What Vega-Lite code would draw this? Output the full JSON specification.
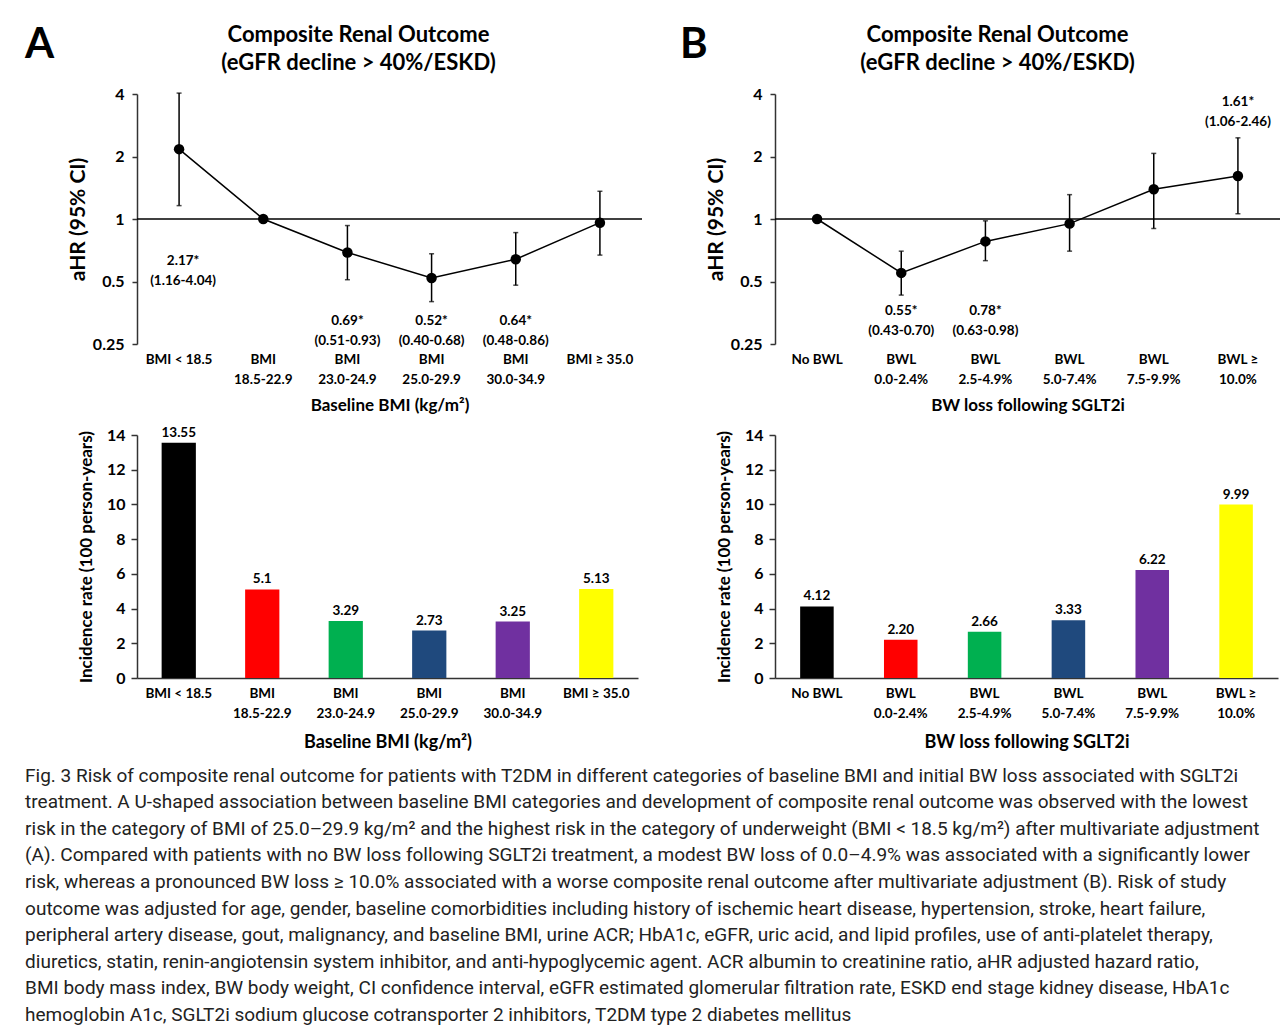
{
  "$schema": "https://vega.github.io/schema/vega-lite/v6.json",
  "padding": {"left": 25, "top": 24, "right": 0, "bottom": 5},
  "background": "white",
  "title": {
    "text": [
      "Fig. 3  Risk of composite renal outcome for patients with T2DM in different categories of baseline BMI and initial BW loss associated with SGLT2i",
      "treatment. A U-shaped association between baseline BMI categories and development of composite renal outcome was observed with the lowest",
      "risk in the category of BMI of 25.0–29.9 kg/m² and the highest risk in the category of underweight (BMI < 18.5 kg/m²) after multivariate adjustment",
      "(A). Compared with patients with no BW loss following SGLT2i treatment, a modest BW loss of 0.0–4.9% was associated with a significantly lower",
      "risk, whereas a pronounced BW loss ≥ 10.0% associated with a worse composite renal outcome after multivariate adjustment (B). Risk of study",
      "outcome was adjusted for age, gender, baseline comorbidities including history of ischemic heart disease, hypertension, stroke, heart failure,",
      "peripheral artery disease, gout, malignancy, and baseline BMI, urine ACR; HbA1c, eGFR, uric acid, and lipid profiles, use of anti-platelet therapy,",
      "diuretics, statin, renin-angiotensin system inhibitor, and anti-hypoglycemic agent. ACR albumin to creatinine ratio, aHR adjusted hazard ratio,",
      "BMI body mass index, BW body weight, CI confidence interval, eGFR estimated glomerular filtration rate, ESKD end stage kidney disease, HbA1c",
      "hemoglobin A1c, SGLT2i sodium glucose cotransporter 2 inhibitors, T2DM type 2 diabetes mellitus"
    ],
    "orient": "bottom",
    "anchor": "start",
    "frame": "bounds",
    "font": "Roboto",
    "fontSize": 19,
    "fontWeight": "normal",
    "lineHeight": 26.6,
    "color": "#222",
    "offset": 15
  },
  "datasets": {
    "hrA": [
      {"cat": "BMI < 18.5", "hr": 2.17, "lo": 1.16, "hi": 4.04, "label": "2.17*\n(1.16-4.04)"},
      {"cat": "BMI\n18.5-22.9", "hr": 1, "lo": null, "hi": null, "label": ""},
      {"cat": "BMI\n23.0-24.9", "hr": 0.69, "lo": 0.51, "hi": 0.93, "label": "0.69*\n(0.51-0.93)"},
      {"cat": "BMI\n25.0-29.9", "hr": 0.52, "lo": 0.40, "hi": 0.68, "label": "0.52*\n(0.40-0.68)"},
      {"cat": "BMI\n30.0-34.9", "hr": 0.64, "lo": 0.48, "hi": 0.86, "label": "0.64*\n(0.48-0.86)"},
      {"cat": "BMI ≥ 35.0", "hr": 0.96, "lo": 0.67, "hi": 1.36, "label": ""}
    ],
    "hrB": [
      {"cat": "No BWL", "hr": 1, "lo": null, "hi": null, "label": ""},
      {"cat": "BWL\n0.0-2.4%", "hr": 0.55, "lo": 0.43, "hi": 0.70, "label": "0.55*\n(0.43-0.70)"},
      {"cat": "BWL\n2.5-4.9%", "hr": 0.78, "lo": 0.63, "hi": 0.98, "label": "0.78*\n(0.63-0.98)"},
      {"cat": "BWL\n5.0-7.4%", "hr": 0.95, "lo": 0.70, "hi": 1.31, "label": ""},
      {"cat": "BWL\n7.5-9.9%", "hr": 1.39, "lo": 0.90, "hi": 2.07, "label": ""},
      {"cat": "BWL ≥\n10.0%", "hr": 1.61, "lo": 1.06, "hi": 2.46, "label": "1.61*\n(1.06-2.46)"}
    ],
    "irA": [
      {"cat": "BMI < 18.5", "ir": 13.55, "txt": "13.55"},
      {"cat": "BMI\n18.5-22.9", "ir": 5.1, "txt": "5.1"},
      {"cat": "BMI\n23.0-24.9", "ir": 3.29, "txt": "3.29"},
      {"cat": "BMI\n25.0-29.9", "ir": 2.73, "txt": "2.73"},
      {"cat": "BMI\n30.0-34.9", "ir": 3.25, "txt": "3.25"},
      {"cat": "BMI ≥ 35.0", "ir": 5.13, "txt": "5.13"}
    ],
    "irB": [
      {"cat": "No BWL", "ir": 4.12, "txt": "4.12"},
      {"cat": "BWL\n0.0-2.4%", "ir": 2.20, "txt": "2.20"},
      {"cat": "BWL\n2.5-4.9%", "ir": 2.66, "txt": "2.66"},
      {"cat": "BWL\n5.0-7.4%", "ir": 3.33, "txt": "3.33"},
      {"cat": "BWL\n7.5-9.9%", "ir": 6.22, "txt": "6.22"},
      {"cat": "BWL ≥\n10.0%", "ir": 9.99, "txt": "9.99"}
    ]
  },
  "columns": 2,
  "bounds": "flush",
  "spacing": {"row": 91, "column": 133},
  "concat": [
    {
      "width": 505,
      "height": 250,
      "title": {"text": ["Composite Renal Outcome", "(eGFR decline > 40%/ESKD)"], "fontSize": 22, "fontWeight": "bold", "lineHeight": 28, "anchor": "middle", "frame": "group", "dx": -31, "offset": -51, "font": "Lato", "color": "#000"},
      "data": {"name": "hrA"},
      "layer": [
        {"data": {"values": [{}]}, "mark": {"type": "rule", "color": "#000", "strokeWidth": 1.5}, "encoding": {"y": {"datum": 1, "type": "quantitative", "scale": {"type": "log", "domain": [0.25, 4], "nice": false},
          "axis": {"title": "aHR (95% CI)", "values": [0.25, 0.5, 1, 2, 4], "format": "~g", "labelFontSize": 16, "titleFontSize": 21, "tickSize": 5, "labelPadding": 8, "titlePadding": 4}}}},
        {
          "encoding": {
            "x": {"field": "cat", "type": "nominal", "sort": null,
                  "scale": {"domain": ["BMI < 18.5", "BMI\n18.5-22.9", "BMI\n23.0-24.9", "BMI\n25.0-29.9", "BMI\n30.0-34.9", "BMI ≥ 35.0"]},
                  "axis": {"title": "Baseline BMI (kg/m²)", "labelAngle": 0, "domain": false, "ticks": false, "labelPadding": 8, "labelFontSize": 13.5, "labelLineHeight": 20, "labelExpr": "split(datum.label, '\\n')", "titleFontSize": 17, "titlePadding": 12}}
          },
          "layer": [
            {"mark": {"type": "rule", "color": "#000", "strokeWidth": 1.5}, "encoding": {"y": {"field": "lo", "type": "quantitative"}, "y2": {"field": "hi"}}},
            {"mark": {"type": "tick", "color": "#000", "size": 5, "thickness": 1.5}, "encoding": {"y": {"field": "lo", "type": "quantitative"}}},
            {"mark": {"type": "tick", "color": "#000", "size": 5, "thickness": 1.5}, "encoding": {"y": {"field": "hi", "type": "quantitative"}}},
            {"mark": {"type": "line", "color": "#000", "strokeWidth": 1.5}, "encoding": {"y": {"field": "hr", "type": "quantitative"}}},
            {"mark": {"type": "point", "filled": true, "color": "#000", "opacity": 1, "size": 110}, "encoding": {"y": {"field": "hr", "type": "quantitative"}}},
            {"transform": [{"filter": "datum.label != '' && datum.hr < 1"}],
             "mark": {"type": "text", "fontSize": 13.5, "fontWeight": "bold", "font": "Lato", "lineBreak": "\n", "lineHeight": 19.5, "baseline": "middle", "dy": -23},
             "encoding": {"y": {"datum": 0.25}, "text": {"field": "label"}}},
            {"transform": [{"filter": "datum.label != '' && datum.hr > 1"}],
             "mark": {"type": "text", "fontSize": 13.5, "fontWeight": "bold", "font": "Lato", "lineBreak": "\n", "lineHeight": 19.5, "baseline": "middle", "dy": -83, "dx": 4},
             "encoding": {"y": {"datum": 0.25}, "text": {"field": "label"}}}
          ]
        },
        {"data": {"values": [{}]},
         "mark": {"type": "text", "text": "A", "fontSize": 42, "fontWeight": "bold", "font": "Lato", "align": "left", "baseline": "alphabetic", "dx": -154, "dy": -36},
         "encoding": {"x": {"datum": "BMI < 18.5"}, "y": {"datum": 4}}}
      ]
    },
    {
      "width": 505,
      "height": 250,
      "title": {"text": ["Composite Renal Outcome", "(eGFR decline > 40%/ESKD)"], "fontSize": 22, "fontWeight": "bold", "lineHeight": 28, "anchor": "middle", "frame": "group", "dx": -30, "offset": -51, "font": "Lato", "color": "#000"},
      "data": {"name": "hrB"},
      "layer": [
        {"data": {"values": [{}]}, "mark": {"type": "rule", "color": "#000", "strokeWidth": 1.5}, "encoding": {"y": {"datum": 1, "type": "quantitative", "scale": {"type": "log", "domain": [0.25, 4], "nice": false},
          "axis": {"title": "aHR (95% CI)", "values": [0.25, 0.5, 1, 2, 4], "format": "~g", "labelFontSize": 16, "titleFontSize": 21, "tickSize": 5, "labelPadding": 8, "titlePadding": 4}}}},
        {
          "encoding": {
            "x": {"field": "cat", "type": "nominal", "sort": null,
                  "scale": {"domain": ["No BWL", "BWL\n0.0-2.4%", "BWL\n2.5-4.9%", "BWL\n5.0-7.4%", "BWL\n7.5-9.9%", "BWL ≥\n10.0%"]},
                  "axis": {"title": "BW loss following SGLT2i", "labelAngle": 0, "domain": false, "ticks": false, "labelPadding": 8, "labelFontSize": 13.5, "labelLineHeight": 20, "labelExpr": "split(datum.label, '\\n')", "titleFontSize": 17, "titlePadding": 12}}
          },
          "layer": [
            {"mark": {"type": "rule", "color": "#000", "strokeWidth": 1.5}, "encoding": {"y": {"field": "lo", "type": "quantitative"}, "y2": {"field": "hi"}}},
            {"mark": {"type": "tick", "color": "#000", "size": 5, "thickness": 1.5}, "encoding": {"y": {"field": "lo", "type": "quantitative"}}},
            {"mark": {"type": "tick", "color": "#000", "size": 5, "thickness": 1.5}, "encoding": {"y": {"field": "hi", "type": "quantitative"}}},
            {"mark": {"type": "line", "color": "#000", "strokeWidth": 1.5}, "encoding": {"y": {"field": "hr", "type": "quantitative"}}},
            {"mark": {"type": "point", "filled": true, "color": "#000", "opacity": 1, "size": 110}, "encoding": {"y": {"field": "hr", "type": "quantitative"}}},
            {"transform": [{"filter": "datum.label != '' && datum.hr < 1"}],
             "mark": {"type": "text", "fontSize": 13.5, "fontWeight": "bold", "font": "Lato", "lineBreak": "\n", "lineHeight": 19.5, "baseline": "middle", "dy": -33},
             "encoding": {"y": {"datum": 0.25}, "text": {"field": "label"}}},
            {"transform": [{"filter": "datum.label != '' && datum.hr > 1"}],
             "mark": {"type": "text", "fontSize": 13.5, "fontWeight": "bold", "font": "Lato", "lineBreak": "\n", "lineHeight": 19.5, "baseline": "middle", "dy": -35.5},
             "encoding": {"y": {"field": "hi", "type": "quantitative"}, "text": {"field": "label"}}}
          ]
        },
        {"data": {"values": [{}]},
         "mark": {"type": "text", "text": "B", "fontSize": 42, "fontWeight": "bold", "font": "Lato", "align": "left", "baseline": "alphabetic", "dx": -137, "dy": -36},
         "encoding": {"x": {"datum": "No BWL"}, "y": {"datum": 4}}}
      ]
    },
    {
      "width": 501,
      "height": 243,
      "data": {"name": "irA"},
      "encoding": {
        "x": {"field": "cat", "type": "nominal", "sort": null, "scale": {"paddingInner": 0.59, "paddingOuter": 0.295},
              "axis": {"title": "Baseline BMI (kg/m²)", "labelAngle": 0, "domain": true, "ticks": false, "labelPadding": 8, "labelFontSize": 13.5, "labelLineHeight": 20, "labelExpr": "split(datum.label, '\\n')", "titleFontSize": 18, "titlePadding": 14}},
        "y": {"field": "ir", "type": "quantitative", "scale": {"domain": [0, 14], "nice": false},
              "axis": {"title": "Incidence rate (100 person-years)", "values": [0, 2, 4, 6, 8, 10, 12, 14], "labelFontSize": 16, "titleFontSize": 17, "tickSize": 6, "labelPadding": 6, "titlePadding": 11}}
      },
      "layer": [
        {"mark": {"type": "bar"}, "encoding": {"color": {"field": "cat", "type": "nominal", "sort": null, "legend": null,
          "scale": {"domain": ["BMI < 18.5", "BMI\n18.5-22.9", "BMI\n23.0-24.9", "BMI\n25.0-29.9", "BMI\n30.0-34.9", "BMI ≥ 35.0"], "range": ["#000000", "#ff0000", "#00b050", "#1f497d", "#7030a0", "#ffff00"]}}}},
        {"mark": {"type": "text", "fontSize": 13.5, "fontWeight": "bold", "font": "Lato", "baseline": "alphabetic", "dy": -6}, "encoding": {"text": {"field": "txt"}}}
      ]
    },
    {
      "width": 503,
      "height": 243,
      "data": {"name": "irB"},
      "encoding": {
        "x": {"field": "cat", "type": "nominal", "sort": null, "scale": {"paddingInner": 0.6, "paddingOuter": 0.3},
              "axis": {"title": "BW loss following SGLT2i", "labelAngle": 0, "domain": true, "ticks": false, "labelPadding": 8, "labelFontSize": 13.5, "labelLineHeight": 20, "labelExpr": "split(datum.label, '\\n')", "titleFontSize": 18, "titlePadding": 14}},
        "y": {"field": "ir", "type": "quantitative", "scale": {"domain": [0, 14], "nice": false},
              "axis": {"title": "Incidence rate (100 person-years)", "values": [0, 2, 4, 6, 8, 10, 12, 14], "labelFontSize": 16, "titleFontSize": 17, "tickSize": 6, "labelPadding": 6, "titlePadding": 11}}
      },
      "layer": [
        {"mark": {"type": "bar"}, "encoding": {"color": {"field": "cat", "type": "nominal", "sort": null, "legend": null,
          "scale": {"domain": ["No BWL", "BWL\n0.0-2.4%", "BWL\n2.5-4.9%", "BWL\n5.0-7.4%", "BWL\n7.5-9.9%", "BWL ≥\n10.0%"], "range": ["#000000", "#ff0000", "#00b050", "#1f497d", "#7030a0", "#ffff00"]}}}},
        {"mark": {"type": "text", "fontSize": 13.5, "fontWeight": "bold", "font": "Lato", "baseline": "alphabetic", "dy": -6}, "encoding": {"text": {"field": "txt"}}}
      ]
    }
  ],
  "config": {
    "font": "Lato",
    "view": {"stroke": null},
    "axis": {"labelFont": "Lato", "labelFontWeight": "bold", "titleFont": "Lato", "titleFontWeight": "bold", "labelColor": "#000", "titleColor": "#000", "domainColor": "#333", "tickColor": "#333", "domainWidth": 1.5, "tickWidth": 1.5, "grid": false}
  }
}
